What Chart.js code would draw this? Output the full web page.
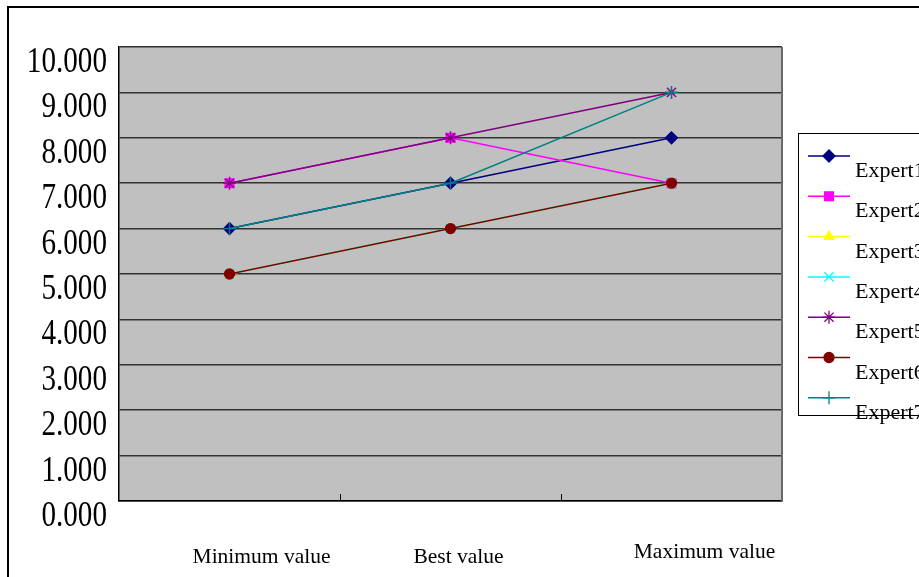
<!DOCTYPE html>
<html>
<head>
<meta charset="utf-8">
<title>Expert estimates</title>
<script src="https://cdn.jsdelivr.net/npm/chart.js@4/dist/chart.umd.min.js"></script>
<style>
  html, body { margin: 0; padding: 0; background: #fff; }
  #wrap { width: 919px; height: 577px; }
</style>
</head>
<body>
<div id="wrap"><canvas id="c" width="919" height="577"></canvas></div>
<script>
// Categories along the x axis
const categories = ['Minimum value', 'Best value', 'Maximum value'];

// Each expert's estimate for minimum, best and maximum value
const expert1 = [6, 7, 8];
const expert2 = [7, 8, 7];
const expert3 = [5, 6, 7];
const expert4 = [5, 6, 7];
const expert5 = [7, 8, 9];
const expert6 = [5, 6, 7];
const expert7 = [6, 7, 9];

const seriesNames = ['Expert1', 'Expert2', 'Expert3', 'Expert4', 'Expert5', 'Expert6', 'Expert7'];
const seriesValues = [expert1, expert2, expert3, expert4, expert5, expert6, expert7];

// Value axis labels, 0 to 10
const yTickLabels = ['0.000', '1.000', '2.000', '3.000', '4.000', '5.000',
                     '6.000', '7.000', '8.000', '9.000', '10.000'];

// Styling per series
const seriesColors = ['#000080', '#FF00FF', '#FFFF00', '#00FFFF', '#800080', '#800000', '#008080'];
const seriesMarkers = ['rectRot', 'rect', 'triangle', 'crossRot', 'star', 'circle', 'cross'];
const markerRadius = [6, 6.2, 5.5, 6.5, 6.5, 5, 6.5];

// Shifts of the category captions relative to their category centres
const xLabelShift = [[32, 0], [8, 0], [33, -5]];

const SERIF = '"Liberation Serif", "DejaVu Serif", serif';

const datasets = seriesNames.map((name, i) => ({
  label: name,
  data: seriesValues[i],
  borderColor: seriesColors[i],
  backgroundColor: seriesColors[i],
  pointBackgroundColor: seriesColors[i],
  pointBorderColor: seriesColors[i],
  pointStyle: seriesMarkers[i],
  pointRadius: markerRadius[i],
  pointBorderWidth: 1.3,
  borderWidth: 1.5,
  tension: 0,
  fill: false,
  order: seriesNames.length - i   // later series painted on top
}));

const chartDecor = {
  id: 'chartDecor',
  beforeDraw(chart) {
    const { ctx, chartArea: a } = chart;
    ctx.save();
    ctx.fillStyle = '#ffffff';
    ctx.fillRect(0, 0, chart.width, chart.height);
    ctx.fillStyle = '#c0c0c0';
    ctx.fillRect(a.left, a.top, a.right - a.left, a.bottom - a.top);
    ctx.restore();
  },
  beforeDatasetsDraw(chart) {
    const { ctx, chartArea: a } = chart;
    const xs = chart.scales.x;
    ctx.save();
    // right edge of the plot area
    ctx.strokeStyle = '#6a6a6a';
    ctx.lineWidth = 2;
    ctx.beginPath();
    ctx.moveTo(a.right, a.top);
    ctx.lineTo(a.right, a.bottom);
    ctx.stroke();
    // category separators on the x axis, pointing into the plot
    ctx.strokeStyle = '#000';
    ctx.lineWidth = 1;
    for (let i = 0; i < categories.length - 1; i++) {
      const x = Math.round((xs.getPixelForValue(i) + xs.getPixelForValue(i + 1)) / 2) + 0.5;
      ctx.beginPath();
      ctx.moveTo(x, a.bottom);
      ctx.lineTo(x, a.bottom - 7);
      ctx.stroke();
    }
    ctx.restore();
  },
  afterDraw(chart) {
    const { ctx, chartArea: a } = chart;
    const xs = chart.scales.x;
    const ys = chart.scales.y;
    ctx.save();

    // value axis labels
    ctx.fillStyle = '#000';
    ctx.font = '36px ' + SERIF;
    ctx.textAlign = 'right';
    ctx.textBaseline = 'alphabetic';
    ys.ticks.forEach((t, i) => {
      const py = ys.getPixelForValue(t.value);
      ctx.save();
      ctx.translate(a.left - 12, py + 25);
      ctx.scale(0.81, 1);
      ctx.fillText(yTickLabels[i], 0, 0);
      ctx.restore();
    });

    // category captions
    ctx.font = '21.5px ' + SERIF;
    ctx.textAlign = 'center';
    categories.forEach((c, i) => {
      const px = xs.getPixelForValue(i);
      ctx.fillText(c, px + xLabelShift[i][0], a.bottom + 62 + xLabelShift[i][1]);
    });

    // legend
    const lx = 798.5, ly = 133.5, step = 40.3;
    ctx.strokeStyle = '#000';
    ctx.lineWidth = 1;
    ctx.strokeRect(lx, ly, 200, 282);
    ctx.textAlign = 'left';
    ctx.font = '22px ' + SERIF;
    seriesNames.forEach((name, i) => {
      const y = 156 + i * step;
      ctx.strokeStyle = seriesColors[i];
      ctx.fillStyle = seriesColors[i];
      ctx.lineWidth = 1.5;
      ctx.beginPath();
      ctx.moveTo(808, y);
      ctx.lineTo(850, y);
      ctx.stroke();
      ctx.lineWidth = 1.3;
      if (Chart.helpers && Chart.helpers.drawPoint) {
        Chart.helpers.drawPoint(ctx, {
          pointStyle: seriesMarkers[i], radius: markerRadius[i], rotation: 0, borderWidth: 1.3
        }, 829, y);
      }
      ctx.fillStyle = '#000';
      ctx.fillText(name, 855, y + 21);
    });

    // outer frame
    ctx.strokeStyle = '#000';
    ctx.lineWidth = 2;
    ctx.strokeRect(8, 7, 1000, 1000);
    ctx.restore();
  }
};

new Chart(document.getElementById('c'), {
  type: 'line',
  data: { labels: categories, datasets },
  options: {
    responsive: false,
    animation: false,
    devicePixelRatio: 1,
    layout: { padding: { left: 0, top: 47, right: 137, bottom: 0 } },
    plugins: {
      legend: { display: false },
      tooltip: { enabled: false },
      title: { display: false }
    },
    scales: {
      x: {
        type: 'category',
        offset: true,
        grid: { display: true, drawOnChartArea: false, drawTicks: false },
        border: { display: true, color: '#000', width: 1.5 },
        ticks: { display: false },
        afterFit(s) { s.height = 76; }
      },
      y: {
        min: 0,
        max: 10,
        ticks: { display: false, stepSize: 1 },
        grid: { color: '#333333', lineWidth: 1.5, drawTicks: false },
        border: { display: true, color: '#000', width: 1.5 },
        afterFit(s) { s.width = 119; }
      }
    }
  },
  plugins: [chartDecor]
});
</script>
</body>
</html>
